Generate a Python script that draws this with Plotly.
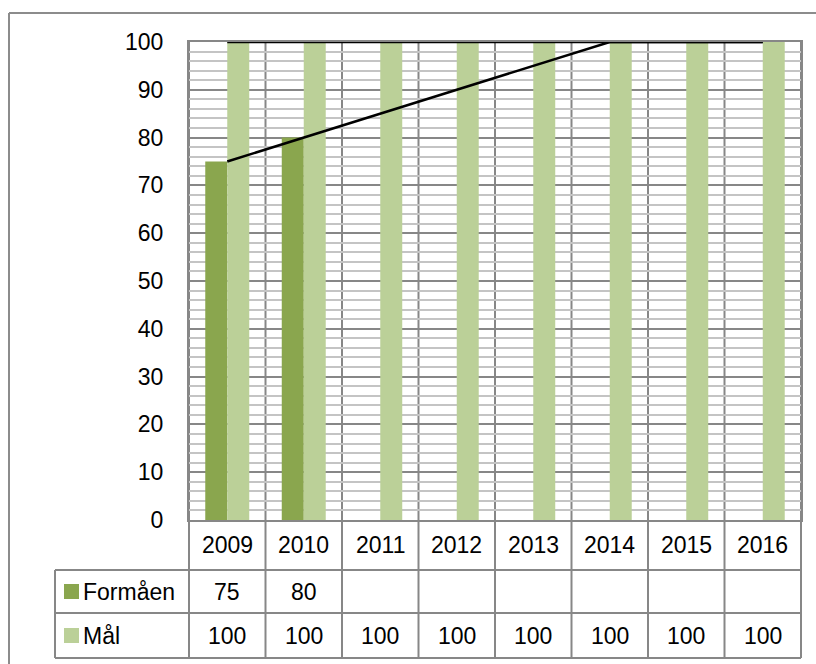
import plotly.graph_objects as go

years = ["2009", "2010", "2011", "2012", "2013", "2014", "2015", "2016"]
formaaen = [75, 80, None, None, None, None, None, None]
maal = [100, 100, 100, 100, 100, 100, 100, 100]
path = [75, 80, 85, 90, 95, 100, 100, 100]
series_names = ["Formåen", "Mål"]
y_ticks = [0, 10, 20, 30, 40, 50, 60, 70, 80, 90, 100]

DARK = "#8aa64e"
LIGHT = "#bbd098"
GRID = "#878787"
MINOR = "#c4c4c4"
FONT = "Liberation Sans"
FS = 23

W, H = 816, 664
L, R, T, B = 189, 15, 42, 144
PW = W - L - R
PH = H - T - B


def py(p):
    return (H - B - p) / PH


def px(p):
    return (p - L) / PW


fig = go.Figure()
fig.add_trace(go.Bar(x=years, y=formaaen, name=series_names[0], marker_color=DARK, marker_line_width=0))
fig.add_trace(go.Bar(x=years, y=maal, name=series_names[1], marker_color=LIGHT, marker_line_width=0))
fig.add_trace(go.Scatter(x=years, y=maal, mode="lines", line=dict(color="black", width=2.5), showlegend=False))
fig.add_trace(go.Scatter(x=years, y=path, mode="lines", line=dict(color="black", width=2.5), showlegend=False))

shapes = []
ann = []
line_style = dict(color=GRID, width=2)

row_cat = (520, 570)
row_f = (570, 613)
row_m = (613, 658)
tbl_left = 55

for yline in (570, 613, 658):
    shapes.append(dict(type="line", xref="paper", yref="paper", x0=px(tbl_left), x1=1, y0=py(yline), y1=py(yline), line=line_style))
shapes.append(dict(type="line", xref="paper", yref="paper", x0=px(tbl_left), x1=px(tbl_left), y0=py(570), y1=py(658), line=line_style))
for i in range(len(years) + 1):
    xb = i / len(years)
    shapes.append(dict(type="line", xref="paper", yref="paper", x0=xb, x1=xb, y0=py(658), y1=1, line=line_style, layer="below"))

# outer chart border (top and left)
shapes.append(dict(type="line", xref="paper", yref="paper", x0=px(9), x1=px(830), y0=py(13), y1=py(13), line=dict(color="#8c8c8c", width=2)))
shapes.append(dict(type="line", xref="paper", yref="paper", x0=px(9), x1=px(9), y0=py(13), y1=py(680), line=dict(color="#8c8c8c", width=2)))

for (r0, r1), col, name in [(row_f, DARK, series_names[0]), (row_m, LIGHT, series_names[1])]:
    c = (r0 + r1) / 2
    shapes.append(dict(type="rect", xref="paper", yref="paper", x0=px(64), x1=px(79), y0=py(c - 7.5), y1=py(c + 7.5), fillcolor=col, line_width=0))
    ann.append(dict(x=px(81), y=py(c), xref="paper", yref="paper", text=name, showarrow=False, xanchor="left", yanchor="middle", font=dict(family=FONT, size=FS, color="black")))

for i, yr in enumerate(years):
    xc = (i + 0.5) / len(years)
    common = dict(xref="paper", yref="paper", showarrow=False, xanchor="center", yanchor="middle", font=dict(family=FONT, size=FS, color="black"))
    ann.append(dict(x=xc, y=py(sum(row_cat) / 2), text=yr, **common))
    if formaaen[i] is not None:
        ann.append(dict(x=xc, y=py(sum(row_f) / 2), text=str(formaaen[i]), **common))
    if maal[i] is not None:
        ann.append(dict(x=xc, y=py(sum(row_m) / 2), text=str(maal[i]), **common))

fig.update_layout(
    width=W, height=H,
    margin=dict(l=L, r=R, t=T, b=B, pad=0),
    paper_bgcolor="white", plot_bgcolor="white",
    barmode="group", bargap=0.425, bargroupgap=0,
    showlegend=False,
    shapes=shapes, annotations=ann,
    font=dict(family=FONT, size=FS, color="black"),
)
fig.update_xaxes(
    type="category", categoryorder="array", categoryarray=years,
    range=[-0.5, len(years) - 0.5], autorange=False,
    showticklabels=False, showgrid=False,
    showline=True, linecolor=GRID, linewidth=2, mirror=True,
    zeroline=False, ticks="",
)
fig.update_yaxes(
    range=[0, 100], autorange=False, tickvals=y_ticks,
    showgrid=True, gridcolor=GRID, gridwidth=1.5,
    minor=dict(dtick=2, showgrid=True, gridcolor=MINOR, gridwidth=2),
    showline=True, linecolor=GRID, linewidth=2, mirror=True,
    zeroline=False, ticks="", ticklabelstandoff=19, automargin=False,
    tickfont=dict(family=FONT, size=FS, color="black"),
)

fig.write_html("out.html", config={"displayModeBar": False},
               post_script="document.body.style.margin='0';document.body.style.overflow='hidden';")
